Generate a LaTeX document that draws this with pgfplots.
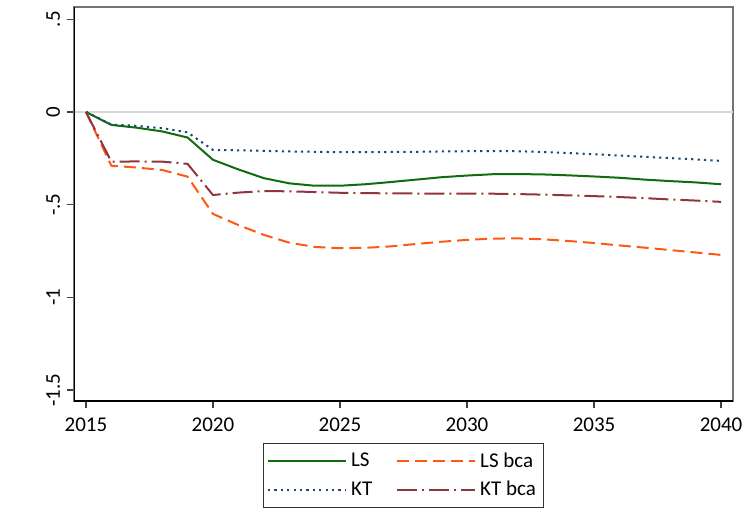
\documentclass[border=0pt]{standalone}
\usepackage{pgfplots}
\pgfplotsset{compat=1.18}
\usepackage{fontspec}
\setmainfont{Carlito}
\definecolor{lsgreen}{RGB}{16,108,16}
\definecolor{ktblue}{RGB}{26,71,111}
\definecolor{lsorange}{RGB}{255,88,20}
\definecolor{ktmaroon}{RGB}{144,53,59}

\pgfplotstableread{
year ls kt lsbca ktbca
2015 0 0 0 0
2016 -0.070 -0.068 -0.290 -0.268
2017 -0.085 -0.075 -0.300 -0.267
2018 -0.105 -0.088 -0.313 -0.268
2019 -0.138 -0.110 -0.349 -0.280
2020 -0.258 -0.205 -0.550 -0.448
2021 -0.310 -0.207 -0.610 -0.435
2022 -0.357 -0.210 -0.663 -0.427
2023 -0.385 -0.213 -0.705 -0.428
2024 -0.398 -0.215 -0.728 -0.432
2025 -0.398 -0.217 -0.735 -0.436
2026 -0.390 -0.217 -0.733 -0.438
2027 -0.378 -0.216 -0.725 -0.439
2028 -0.365 -0.215 -0.712 -0.440
2029 -0.352 -0.213 -0.700 -0.440
2030 -0.343 -0.212 -0.690 -0.440
2031 -0.336 -0.211 -0.683 -0.441
2032 -0.335 -0.212 -0.682 -0.443
2033 -0.337 -0.216 -0.687 -0.446
2034 -0.342 -0.222 -0.696 -0.450
2035 -0.348 -0.228 -0.707 -0.454
2036 -0.355 -0.235 -0.720 -0.459
2037 -0.365 -0.242 -0.732 -0.465
2038 -0.373 -0.249 -0.745 -0.472
2039 -0.380 -0.256 -0.758 -0.478
2040 -0.390 -0.264 -0.771 -0.485
}\data

\begin{document}
\begin{tikzpicture}[x=1pt,y=1pt]
\path[use as bounding box] (-37,-53.5) rectangle (334.5,200.5);
\begin{axis}[
    scale only axis,
    width=329.5pt, height=197pt,
    xmin=2014.53, xmax=2040.47,
    ymin=-1.559, ymax=0.566,
    axis line style={black!55, line width=0.6pt},
    tick align=outside,
    major tick length=3.5pt,
    tick style={black!75, line width=0.6pt},
    xtick={2015,2020,2025,2030,2035,2040},
    xtick pos=bottom, ytick pos=left,
    ytick={-1.5,-1,-0.5,0,0.5},
    yticklabels={-1.5,-1,-.5,0,.5},
    xticklabel style={/pgf/number format/1000 sep=, yshift=-1.5pt},
    yticklabel style={rotate=90, anchor=south},
    /pgf/number format/assume math mode=true,
    font=\fontsize{10.5}{12.5}\selectfont,
    legend columns=2,
    legend cell align=left,
    legend style={at={(0.5,0)}, anchor=north, yshift=-21pt,
        draw=black!80, line width=0.5pt,
        font=\fontsize{10.5}{12.5}\selectfont,
        inner xsep=2pt, inner ysep=2pt, row sep=0.6pt,
        nodes={inner xsep=2pt, inner ysep=2.5pt},
        /tikz/every even column/.append style={column sep=10pt}},
    legend image code/.code={\draw[#1] (0pt,0pt) -- (39pt,0pt);},
]
\addplot[black!15, line width=0.8pt, forget plot] coordinates {(2014.53,0) (2040.47,0)};
\addplot[lsgreen, line width=1pt] table[x=year, y=ls] {\data};
\addlegendentry{LS}
\addplot[lsorange, line width=1pt, dash pattern=on 6pt off 3pt] table[x=year, y=lsbca] {\data};
\addlegendentry{LS bca}
\addplot[ktblue, line width=1pt, dash pattern=on 1.1pt off 2.1pt] table[x=year, y=kt] {\data};
\addlegendentry{KT}
\addplot[ktmaroon, line width=1pt, dash pattern=on 10pt off 2.5pt on 1pt off 2.5pt] table[x=year, y=ktbca] {\data};
\addlegendentry{KT bca}
\draw[black, line width=0.6pt] (rel axis cs:0,1) -- (rel axis cs:0,0) -- (rel axis cs:1,0);
\end{axis}
\end{tikzpicture}
\end{document}
